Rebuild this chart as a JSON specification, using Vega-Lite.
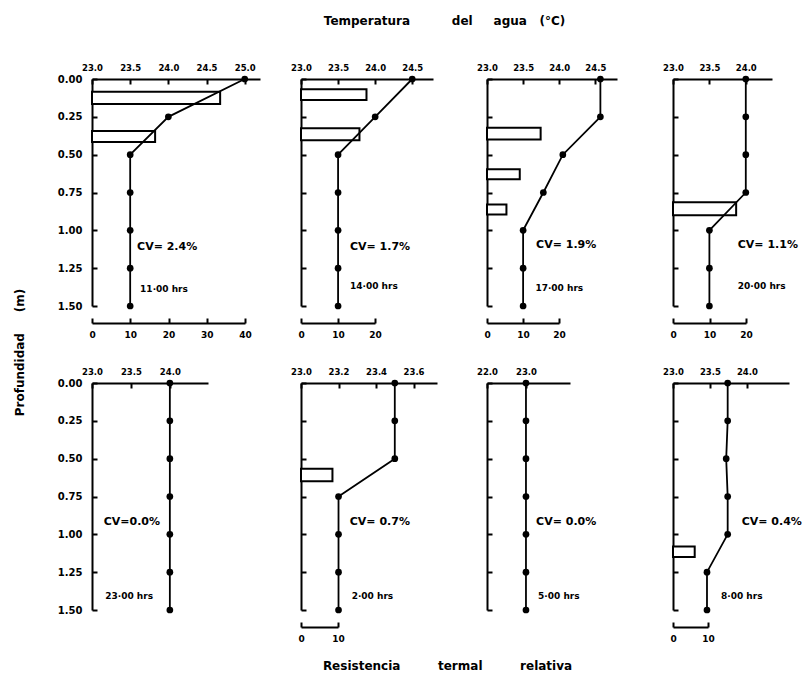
{
  "$schema": "https://vega.github.io/schema/vega-lite/v6.json",
  "background": "white",
  "padding": {"left": 13, "top": 14, "right": 5, "bottom": 5},
  "bounds": "flush",
  "columns": 4,
  "spacing": {"row": 77, "column": 0},
  "datasets": {
    "temps": [
      {"panel": 1, "depth": 0, "temp": 25.0}, {"panel": 1, "depth": 0.25, "temp": 24.0}, {"panel": 1, "depth": 0.5, "temp": 23.5}, {"panel": 1, "depth": 0.75, "temp": 23.5}, {"panel": 1, "depth": 1.0, "temp": 23.5}, {"panel": 1, "depth": 1.25, "temp": 23.5}, {"panel": 1, "depth": 1.5, "temp": 23.5},
      {"panel": 2, "depth": 0, "temp": 24.5}, {"panel": 2, "depth": 0.25, "temp": 24.0}, {"panel": 2, "depth": 0.5, "temp": 23.5}, {"panel": 2, "depth": 0.75, "temp": 23.5}, {"panel": 2, "depth": 1.0, "temp": 23.5}, {"panel": 2, "depth": 1.25, "temp": 23.5}, {"panel": 2, "depth": 1.5, "temp": 23.5},
      {"panel": 3, "depth": 0, "temp": 24.57}, {"panel": 3, "depth": 0.25, "temp": 24.57}, {"panel": 3, "depth": 0.5, "temp": 24.05}, {"panel": 3, "depth": 0.75, "temp": 23.78}, {"panel": 3, "depth": 1.0, "temp": 23.5}, {"panel": 3, "depth": 1.25, "temp": 23.5}, {"panel": 3, "depth": 1.5, "temp": 23.5},
      {"panel": 4, "depth": 0, "temp": 24.0}, {"panel": 4, "depth": 0.25, "temp": 24.0}, {"panel": 4, "depth": 0.5, "temp": 24.0}, {"panel": 4, "depth": 0.75, "temp": 24.0}, {"panel": 4, "depth": 1.0, "temp": 23.5}, {"panel": 4, "depth": 1.25, "temp": 23.5}, {"panel": 4, "depth": 1.5, "temp": 23.5},
      {"panel": 5, "depth": 0, "temp": 24.0}, {"panel": 5, "depth": 0.25, "temp": 24.0}, {"panel": 5, "depth": 0.5, "temp": 24.0}, {"panel": 5, "depth": 0.75, "temp": 24.0}, {"panel": 5, "depth": 1.0, "temp": 24.0}, {"panel": 5, "depth": 1.25, "temp": 24.0}, {"panel": 5, "depth": 1.5, "temp": 24.0},
      {"panel": 6, "depth": 0, "temp": 23.5}, {"panel": 6, "depth": 0.25, "temp": 23.5}, {"panel": 6, "depth": 0.5, "temp": 23.5}, {"panel": 6, "depth": 0.75, "temp": 23.2}, {"panel": 6, "depth": 1.0, "temp": 23.2}, {"panel": 6, "depth": 1.25, "temp": 23.2}, {"panel": 6, "depth": 1.5, "temp": 23.2},
      {"panel": 7, "depth": 0, "temp": 23.0}, {"panel": 7, "depth": 0.25, "temp": 23.0}, {"panel": 7, "depth": 0.5, "temp": 23.0}, {"panel": 7, "depth": 0.75, "temp": 23.0}, {"panel": 7, "depth": 1.0, "temp": 23.0}, {"panel": 7, "depth": 1.25, "temp": 23.0}, {"panel": 7, "depth": 1.5, "temp": 23.0},
      {"panel": 8, "depth": 0, "temp": 23.74}, {"panel": 8, "depth": 0.25, "temp": 23.74}, {"panel": 8, "depth": 0.5, "temp": 23.72}, {"panel": 8, "depth": 0.75, "temp": 23.74}, {"panel": 8, "depth": 1.0, "temp": 23.74}, {"panel": 8, "depth": 1.25, "temp": 23.46}, {"panel": 8, "depth": 1.5, "temp": 23.46}
    ],
    "bars": [
      {"panel": 1, "depth": 0.084, "depth_end": 0.166, "r": 33.5},
      {"panel": 1, "depth": 0.343, "depth_end": 0.416, "r": 16.5},
      {"panel": 2, "depth": 0.068, "depth_end": 0.139, "r": 17.7},
      {"panel": 2, "depth": 0.326, "depth_end": 0.404, "r": 15.8},
      {"panel": 3, "depth": 0.322, "depth_end": 0.4, "r": 14.9},
      {"panel": 3, "depth": 0.596, "depth_end": 0.662, "r": 9.1},
      {"panel": 3, "depth": 0.83, "depth_end": 0.895, "r": 5.4},
      {"panel": 4, "depth": 0.814, "depth_end": 0.9, "r": 17.3},
      {"panel": 6, "depth": 0.566, "depth_end": 0.65, "r": 8.5},
      {"panel": 8, "depth": 1.08, "depth_end": 1.15, "r": 6.2}
    ]
  },
  "concat": [
    {
      "width": 209, "height": 227,
      "layer": [
        {"data": {"name": "bars"}, "transform": [{"filter": "datum.panel == 1"}], "mark": {"type": "rect", "fill": "white", "stroke": "black", "strokeWidth": 2},
         "encoding": {
           "y": {"field": "depth", "type": "quantitative", "scale": {"domain": [0, 1.5], "reverse": true, "nice": false, "zero": false}, "axis": {"values": [0, 0.25, 0.5, 0.75, 1, 1.25, 1.5], "format": ".2f", "title": "Profundidad\u00a0\u00a0\u00a0\u00a0\u00a0(m)", "titleX": -73, "titleY": 273, "titleAngle": 270, "titleAlign": "center", "titleBaseline": "middle", "titleFontSize": 12}},
           "y2": {"field": "depth_end"},
           "x": {"field": "r", "type": "quantitative", "scale": {"domain": [0, 40], "range": [0, 153], "nice": false, "zero": false}, "axis": {"orient": "bottom", "values": [0, 10, 20, 30, 40], "offset": 17, "title": null}},
           "x2": {"datum": 0}}},
        {"data": {"name": "temps"}, "transform": [{"filter": "datum.panel == 1"}],
         "encoding": {"x": {"field": "temp", "type": "quantitative", "scale": {"domain": [23, 25.2], "range": [0, 168], "nice": false, "zero": false}, "axis": {"orient": "top", "values": [23, 23.5, 24, 24.5, 25], "format": ".1f", "title": null}},
                      "y": {"field": "depth", "type": "quantitative", "scale": {"domain": [0, 1.5], "reverse": true, "nice": false, "zero": false}, "axis": null}},
         "layer": [
           {"mark": {"type": "line", "color": "black", "strokeWidth": 1.8}, "encoding": {"order": {"field": "depth", "type": "quantitative"}}},
           {"mark": {"type": "point", "filled": true, "color": "black", "opacity": 1, "size": 45}}
         ]},
        {"data": {"values": [{}]},
         "layer": [
           {"mark": {"type": "text", "text": "CV= 2.4%", "align": "left", "baseline": "middle", "fontSize": 11, "fontWeight": "bold", "font": "DejaVu Sans"}, "encoding": {"x": {"datum": 23.59, "type": "quantitative", "scale": {"domain": [23, 25.2], "range": [0, 168], "nice": false, "zero": false}, "axis": null}, "y": {"datum": 1.11, "type": "quantitative", "scale": {"domain": [0, 1.5], "reverse": true, "nice": false, "zero": false}, "axis": null}}},
           {"mark": {"type": "text", "text": "11·00 hrs", "align": "left", "baseline": "middle", "fontSize": 9, "fontWeight": "bold", "font": "DejaVu Sans"}, "encoding": {"x": {"datum": 23.63, "type": "quantitative", "scale": {"domain": [23, 25.2], "range": [0, 168], "nice": false, "zero": false}, "axis": null}, "y": {"datum": 1.39, "type": "quantitative", "scale": {"domain": [0, 1.5], "reverse": true, "nice": false, "zero": false}, "axis": null}}}
         ]}
      ],
      "resolve": {"scale": {"x": "independent", "y": "independent"}}
    },
    {
      "width": 186, "height": 227,
      "layer": [
        {"data": {"name": "bars"}, "transform": [{"filter": "datum.panel == 2"}], "mark": {"type": "rect", "fill": "white", "stroke": "black", "strokeWidth": 2},
         "encoding": {
           "y": {"field": "depth", "type": "quantitative", "scale": {"domain": [0, 1.5], "reverse": true, "nice": false, "zero": false}, "axis": {"values": [0, 0.25, 0.5, 0.75, 1, 1.25, 1.5], "labels": false, "title": null}},
           "y2": {"field": "depth_end"},
           "x": {"field": "r", "type": "quantitative", "scale": {"domain": [0, 20], "range": [0, 74], "nice": false, "zero": false}, "axis": {"orient": "bottom", "values": [0, 10, 20], "offset": 17, "title": null}},
           "x2": {"datum": 0}}},
        {"data": {"name": "temps"}, "transform": [{"filter": "datum.panel == 2"}],
         "encoding": {"x": {"field": "temp", "type": "quantitative", "scale": {"domain": [23, 24.78], "range": [0, 132], "nice": false, "zero": false}, "axis": {"orient": "top", "values": [23, 23.5, 24, 24.5], "format": ".1f", "title": "Temperatura\u00a0\u00a0\u00a0\u00a0\u00a0\u00a0\u00a0\u00a0\u00a0\u00a0del\u00a0\u00a0\u00a0\u00a0\u00a0agua\u00a0\u00a0\u00a0(°C)", "titleX": 143, "titleY": -59, "titleAlign": "center", "titleBaseline": "middle", "titleFontSize": 12}},
                      "y": {"field": "depth", "type": "quantitative", "scale": {"domain": [0, 1.5], "reverse": true, "nice": false, "zero": false}, "axis": null}},
         "layer": [
           {"mark": {"type": "line", "color": "black", "strokeWidth": 1.8}, "encoding": {"order": {"field": "depth", "type": "quantitative"}}},
           {"mark": {"type": "point", "filled": true, "color": "black", "opacity": 1, "size": 45}}
         ]},
        {"data": {"values": [{}]},
         "layer": [
           {"mark": {"type": "text", "text": "CV= 1.7%", "align": "left", "baseline": "middle", "fontSize": 11, "fontWeight": "bold", "font": "DejaVu Sans"}, "encoding": {"x": {"datum": 23.66, "type": "quantitative", "scale": {"domain": [23, 24.78], "range": [0, 132], "nice": false, "zero": false}, "axis": null}, "y": {"datum": 1.11, "type": "quantitative", "scale": {"domain": [0, 1.5], "reverse": true, "nice": false, "zero": false}, "axis": null}}},
           {"mark": {"type": "text", "text": "14·00 hrs", "align": "left", "baseline": "middle", "fontSize": 9, "fontWeight": "bold", "font": "DejaVu Sans"}, "encoding": {"x": {"datum": 23.66, "type": "quantitative", "scale": {"domain": [23, 24.78], "range": [0, 132], "nice": false, "zero": false}, "axis": null}, "y": {"datum": 1.37, "type": "quantitative", "scale": {"domain": [0, 1.5], "reverse": true, "nice": false, "zero": false}, "axis": null}}}
         ]}
      ],
      "resolve": {"scale": {"x": "independent", "y": "independent"}}
    },
    {
      "width": 186, "height": 227,
      "layer": [
        {"data": {"name": "bars"}, "transform": [{"filter": "datum.panel == 3"}], "mark": {"type": "rect", "fill": "white", "stroke": "black", "strokeWidth": 2},
         "encoding": {
           "y": {"field": "depth", "type": "quantitative", "scale": {"domain": [0, 1.5], "reverse": true, "nice": false, "zero": false}, "axis": {"values": [0, 0.25, 0.5, 0.75, 1, 1.25, 1.5], "labels": false, "title": null}},
           "y2": {"field": "depth_end"},
           "x": {"field": "r", "type": "quantitative", "scale": {"domain": [0, 20], "range": [0, 72], "nice": false, "zero": false}, "axis": {"orient": "bottom", "values": [0, 10, 20], "offset": 17, "title": null}},
           "x2": {"datum": 0}}},
        {"data": {"name": "temps"}, "transform": [{"filter": "datum.panel == 3"}],
         "encoding": {"x": {"field": "temp", "type": "quantitative", "scale": {"domain": [23, 24.8], "range": [0, 130], "nice": false, "zero": false}, "axis": {"orient": "top", "values": [23, 23.5, 24, 24.5], "format": ".1f", "title": null}},
                      "y": {"field": "depth", "type": "quantitative", "scale": {"domain": [0, 1.5], "reverse": true, "nice": false, "zero": false}, "axis": null}},
         "layer": [
           {"mark": {"type": "line", "color": "black", "strokeWidth": 1.8}, "encoding": {"order": {"field": "depth", "type": "quantitative"}}},
           {"mark": {"type": "point", "filled": true, "color": "black", "opacity": 1, "size": 45}}
         ]},
        {"data": {"values": [{}]},
         "layer": [
           {"mark": {"type": "text", "text": "CV= 1.9%", "align": "left", "baseline": "middle", "fontSize": 11, "fontWeight": "bold", "font": "DejaVu Sans"}, "encoding": {"x": {"datum": 23.68, "type": "quantitative", "scale": {"domain": [23, 24.8], "range": [0, 130], "nice": false, "zero": false}, "axis": null}, "y": {"datum": 1.1, "type": "quantitative", "scale": {"domain": [0, 1.5], "reverse": true, "nice": false, "zero": false}, "axis": null}}},
           {"mark": {"type": "text", "text": "17·00 hrs", "align": "left", "baseline": "middle", "fontSize": 9, "fontWeight": "bold", "font": "DejaVu Sans"}, "encoding": {"x": {"datum": 23.67, "type": "quantitative", "scale": {"domain": [23, 24.8], "range": [0, 130], "nice": false, "zero": false}, "axis": null}, "y": {"datum": 1.38, "type": "quantitative", "scale": {"domain": [0, 1.5], "reverse": true, "nice": false, "zero": false}, "axis": null}}}
         ]}
      ],
      "resolve": {"scale": {"x": "independent", "y": "independent"}}
    },
    {
      "width": 120, "height": 227,
      "layer": [
        {"data": {"name": "bars"}, "transform": [{"filter": "datum.panel == 4"}], "mark": {"type": "rect", "fill": "white", "stroke": "black", "strokeWidth": 2},
         "encoding": {
           "y": {"field": "depth", "type": "quantitative", "scale": {"domain": [0, 1.5], "reverse": true, "nice": false, "zero": false}, "axis": {"values": [0, 0.25, 0.5, 0.75, 1, 1.25, 1.5], "labels": false, "title": null}},
           "y2": {"field": "depth_end"},
           "x": {"field": "r", "type": "quantitative", "scale": {"domain": [0, 20], "range": [0, 73], "nice": false, "zero": false}, "axis": {"orient": "bottom", "values": [0, 10, 20], "offset": 17, "title": null}},
           "x2": {"datum": 0}}},
        {"data": {"name": "temps"}, "transform": [{"filter": "datum.panel == 4"}],
         "encoding": {"x": {"field": "temp", "type": "quantitative", "scale": {"domain": [23, 24.36], "range": [0, 99], "nice": false, "zero": false}, "axis": {"orient": "top", "values": [23, 23.5, 24], "format": ".1f", "title": null}},
                      "y": {"field": "depth", "type": "quantitative", "scale": {"domain": [0, 1.5], "reverse": true, "nice": false, "zero": false}, "axis": null}},
         "layer": [
           {"mark": {"type": "line", "color": "black", "strokeWidth": 1.8}, "encoding": {"order": {"field": "depth", "type": "quantitative"}}},
           {"mark": {"type": "point", "filled": true, "color": "black", "opacity": 1, "size": 45}}
         ]},
        {"data": {"values": [{}]},
         "layer": [
           {"mark": {"type": "text", "text": "CV= 1.1%", "align": "left", "baseline": "middle", "fontSize": 11, "fontWeight": "bold", "font": "DejaVu Sans"}, "encoding": {"x": {"datum": 23.89, "type": "quantitative", "scale": {"domain": [23, 24.36], "range": [0, 99], "nice": false, "zero": false}, "axis": null}, "y": {"datum": 1.1, "type": "quantitative", "scale": {"domain": [0, 1.5], "reverse": true, "nice": false, "zero": false}, "axis": null}}},
           {"mark": {"type": "text", "text": "20·00 hrs", "align": "left", "baseline": "middle", "fontSize": 9, "fontWeight": "bold", "font": "DejaVu Sans"}, "encoding": {"x": {"datum": 23.89, "type": "quantitative", "scale": {"domain": [23, 24.36], "range": [0, 99], "nice": false, "zero": false}, "axis": null}, "y": {"datum": 1.37, "type": "quantitative", "scale": {"domain": [0, 1.5], "reverse": true, "nice": false, "zero": false}, "axis": null}}}
         ]}
      ],
      "resolve": {"scale": {"x": "independent", "y": "independent"}}
    },
    {
      "width": 209, "height": 227,
      "layer": [
        {"data": {"name": "temps"}, "transform": [{"filter": "datum.panel == 5"}],
         "encoding": {"x": {"field": "temp", "type": "quantitative", "scale": {"domain": [23, 24.49], "range": [0, 116], "nice": false, "zero": false}, "axis": {"orient": "top", "values": [23, 23.5, 24], "format": ".1f", "title": null}},
                      "y": {"field": "depth", "type": "quantitative", "scale": {"domain": [0, 1.5], "reverse": true, "nice": false, "zero": false}, "axis": {"values": [0, 0.25, 0.5, 0.75, 1, 1.25, 1.5], "format": ".2f", "title": null}}},
         "layer": [
           {"mark": {"type": "line", "color": "black", "strokeWidth": 1.8}, "encoding": {"order": {"field": "depth", "type": "quantitative"}}},
           {"mark": {"type": "point", "filled": true, "color": "black", "opacity": 1, "size": 45}}
         ]},
        {"data": {"values": [{}]},
         "layer": [
           {"mark": {"type": "text", "text": "CV=0.0%", "align": "left", "baseline": "middle", "fontSize": 11, "fontWeight": "bold", "font": "DejaVu Sans"}, "encoding": {"x": {"datum": 23.15, "type": "quantitative", "scale": {"domain": [23, 24.49], "range": [0, 116], "nice": false, "zero": false}, "axis": null}, "y": {"datum": 0.92, "type": "quantitative", "scale": {"domain": [0, 1.5], "reverse": true, "nice": false, "zero": false}, "axis": null}}},
           {"mark": {"type": "text", "text": "23·00 hrs", "align": "left", "baseline": "middle", "fontSize": 9, "fontWeight": "bold", "font": "DejaVu Sans"}, "encoding": {"x": {"datum": 23.17, "type": "quantitative", "scale": {"domain": [23, 24.49], "range": [0, 116], "nice": false, "zero": false}, "axis": null}, "y": {"datum": 1.41, "type": "quantitative", "scale": {"domain": [0, 1.5], "reverse": true, "nice": false, "zero": false}, "axis": null}}}
         ]}
      ],
      "resolve": {"scale": {"x": "independent", "y": "independent"}}
    },
    {
      "width": 186, "height": 227,
      "layer": [
        {"data": {"name": "bars"}, "transform": [{"filter": "datum.panel == 6"}], "mark": {"type": "rect", "fill": "white", "stroke": "black", "strokeWidth": 2},
         "encoding": {
           "y": {"field": "depth", "type": "quantitative", "scale": {"domain": [0, 1.5], "reverse": true, "nice": false, "zero": false}, "axis": {"values": [0, 0.25, 0.5, 0.75, 1, 1.25, 1.5], "labels": false, "title": null}},
           "y2": {"field": "depth_end"},
           "x": {"field": "r", "type": "quantitative", "scale": {"domain": [0, 10], "range": [0, 37], "nice": false, "zero": false}, "axis": {"orient": "bottom", "values": [0, 10], "offset": 17, "title": "Resistencia\u00a0\u00a0\u00a0\u00a0\u00a0\u00a0\u00a0\u00a0\u00a0termal\u00a0\u00a0\u00a0\u00a0\u00a0\u00a0\u00a0\u00a0\u00a0relativa", "titleX": 146, "titleY": 38, "titleAlign": "center", "titleBaseline": "middle", "titleFontSize": 12}},
           "x2": {"datum": 0}}},
        {"data": {"name": "temps"}, "transform": [{"filter": "datum.panel == 6"}],
         "encoding": {"x": {"field": "temp", "type": "quantitative", "scale": {"domain": [23, 23.725], "range": [0, 136], "nice": false, "zero": false}, "axis": {"orient": "top", "values": [23, 23.2, 23.4, 23.6], "format": ".1f", "title": null}},
                      "y": {"field": "depth", "type": "quantitative", "scale": {"domain": [0, 1.5], "reverse": true, "nice": false, "zero": false}, "axis": null}},
         "layer": [
           {"mark": {"type": "line", "color": "black", "strokeWidth": 1.8}, "encoding": {"order": {"field": "depth", "type": "quantitative"}}},
           {"mark": {"type": "point", "filled": true, "color": "black", "opacity": 1, "size": 45}}
         ]},
        {"data": {"values": [{}]},
         "layer": [
           {"mark": {"type": "text", "text": "CV= 0.7%", "align": "left", "baseline": "middle", "fontSize": 11, "fontWeight": "bold", "font": "DejaVu Sans"}, "encoding": {"x": {"datum": 23.26, "type": "quantitative", "scale": {"domain": [23, 23.725], "range": [0, 136], "nice": false, "zero": false}, "axis": null}, "y": {"datum": 0.92, "type": "quantitative", "scale": {"domain": [0, 1.5], "reverse": true, "nice": false, "zero": false}, "axis": null}}},
           {"mark": {"type": "text", "text": "2·00 hrs", "align": "left", "baseline": "middle", "fontSize": 9, "fontWeight": "bold", "font": "DejaVu Sans"}, "encoding": {"x": {"datum": 23.27, "type": "quantitative", "scale": {"domain": [23, 23.725], "range": [0, 136], "nice": false, "zero": false}, "axis": null}, "y": {"datum": 1.41, "type": "quantitative", "scale": {"domain": [0, 1.5], "reverse": true, "nice": false, "zero": false}, "axis": null}}}
         ]}
      ],
      "resolve": {"scale": {"x": "independent", "y": "independent"}}
    },
    {
      "width": 186, "height": 227,
      "layer": [
        {"data": {"name": "temps"}, "transform": [{"filter": "datum.panel == 7"}],
         "encoding": {"x": {"field": "temp", "type": "quantitative", "scale": {"domain": [22, 24.13], "range": [0, 83], "nice": false, "zero": false}, "axis": {"orient": "top", "values": [22, 23], "format": ".1f", "title": null}},
                      "y": {"field": "depth", "type": "quantitative", "scale": {"domain": [0, 1.5], "reverse": true, "nice": false, "zero": false}, "axis": {"values": [0, 0.25, 0.5, 0.75, 1, 1.25, 1.5], "labels": false, "title": null}}},
         "layer": [
           {"mark": {"type": "line", "color": "black", "strokeWidth": 1.8}, "encoding": {"order": {"field": "depth", "type": "quantitative"}}},
           {"mark": {"type": "point", "filled": true, "color": "black", "opacity": 1, "size": 45}}
         ]},
        {"data": {"values": [{}]},
         "layer": [
           {"mark": {"type": "text", "text": "CV= 0.0%", "align": "left", "baseline": "middle", "fontSize": 11, "fontWeight": "bold", "font": "DejaVu Sans"}, "encoding": {"x": {"datum": 23.26, "type": "quantitative", "scale": {"domain": [22, 24.13], "range": [0, 83], "nice": false, "zero": false}, "axis": null}, "y": {"datum": 0.92, "type": "quantitative", "scale": {"domain": [0, 1.5], "reverse": true, "nice": false, "zero": false}, "axis": null}}},
           {"mark": {"type": "text", "text": "5·00 hrs", "align": "left", "baseline": "middle", "fontSize": 9, "fontWeight": "bold", "font": "DejaVu Sans"}, "encoding": {"x": {"datum": 23.31, "type": "quantitative", "scale": {"domain": [22, 24.13], "range": [0, 83], "nice": false, "zero": false}, "axis": null}, "y": {"datum": 1.41, "type": "quantitative", "scale": {"domain": [0, 1.5], "reverse": true, "nice": false, "zero": false}, "axis": null}}}
         ]}
      ],
      "resolve": {"scale": {"x": "independent", "y": "independent"}}
    },
    {
      "width": 120, "height": 227,
      "layer": [
        {"data": {"name": "bars"}, "transform": [{"filter": "datum.panel == 8"}], "mark": {"type": "rect", "fill": "white", "stroke": "black", "strokeWidth": 2},
         "encoding": {
           "y": {"field": "depth", "type": "quantitative", "scale": {"domain": [0, 1.5], "reverse": true, "nice": false, "zero": false}, "axis": {"values": [0, 0.25, 0.5, 0.75, 1, 1.25, 1.5], "labels": false, "title": null}},
           "y2": {"field": "depth_end"},
           "x": {"field": "r", "type": "quantitative", "scale": {"domain": [0, 10], "range": [0, 35], "nice": false, "zero": false}, "axis": {"orient": "bottom", "values": [0, 10], "offset": 17, "title": null}},
           "x2": {"datum": 0}}},
        {"data": {"name": "temps"}, "transform": [{"filter": "datum.panel == 8"}],
         "encoding": {"x": {"field": "temp", "type": "quantitative", "scale": {"domain": [23, 24.57], "range": [0, 116], "nice": false, "zero": false}, "axis": {"orient": "top", "values": [23, 23.5, 24], "format": ".1f", "title": null}},
                      "y": {"field": "depth", "type": "quantitative", "scale": {"domain": [0, 1.5], "reverse": true, "nice": false, "zero": false}, "axis": null}},
         "layer": [
           {"mark": {"type": "line", "color": "black", "strokeWidth": 1.8}, "encoding": {"order": {"field": "depth", "type": "quantitative"}}},
           {"mark": {"type": "point", "filled": true, "color": "black", "opacity": 1, "size": 45}}
         ]},
        {"data": {"values": [{}]},
         "layer": [
           {"mark": {"type": "text", "text": "CV= 0.4%", "align": "left", "baseline": "middle", "fontSize": 11, "fontWeight": "bold", "font": "DejaVu Sans"}, "encoding": {"x": {"datum": 23.93, "type": "quantitative", "scale": {"domain": [23, 24.57], "range": [0, 116], "nice": false, "zero": false}, "axis": null}, "y": {"datum": 0.92, "type": "quantitative", "scale": {"domain": [0, 1.5], "reverse": true, "nice": false, "zero": false}, "axis": null}}},
           {"mark": {"type": "text", "text": "8·00 hrs", "align": "left", "baseline": "middle", "fontSize": 9, "fontWeight": "bold", "font": "DejaVu Sans"}, "encoding": {"x": {"datum": 23.65, "type": "quantitative", "scale": {"domain": [23, 24.57], "range": [0, 116], "nice": false, "zero": false}, "axis": null}, "y": {"datum": 1.41, "type": "quantitative", "scale": {"domain": [0, 1.5], "reverse": true, "nice": false, "zero": false}, "axis": null}}}
         ]}
      ],
      "resolve": {"scale": {"x": "independent", "y": "independent"}}
    }
  ],
  "config": {
    "view": {"stroke": null},
    "font": "DejaVu Sans",
    "axis": {"domainColor": "black", "domainWidth": 2, "tickColor": "black", "tickWidth": 2, "tickSize": -5, "labelColor": "black", "labelFont": "DejaVu Sans", "labelFontWeight": "bold", "labelFontSize": 9, "labelFlush": false, "labelOverlap": false, "grid": false, "titleColor": "black", "titleFont": "DejaVu Sans", "titleFontWeight": "bold", "titleFontSize": 11},
    "axisTop": {"labelPadding": 12, "labelFontSize": 8.5},
    "axisBottom": {"labelPadding": 12, "labelFontSize": 9},
    "axisLeft": {"labelPadding": 15, "labelFontSize": 10}
  }
}
